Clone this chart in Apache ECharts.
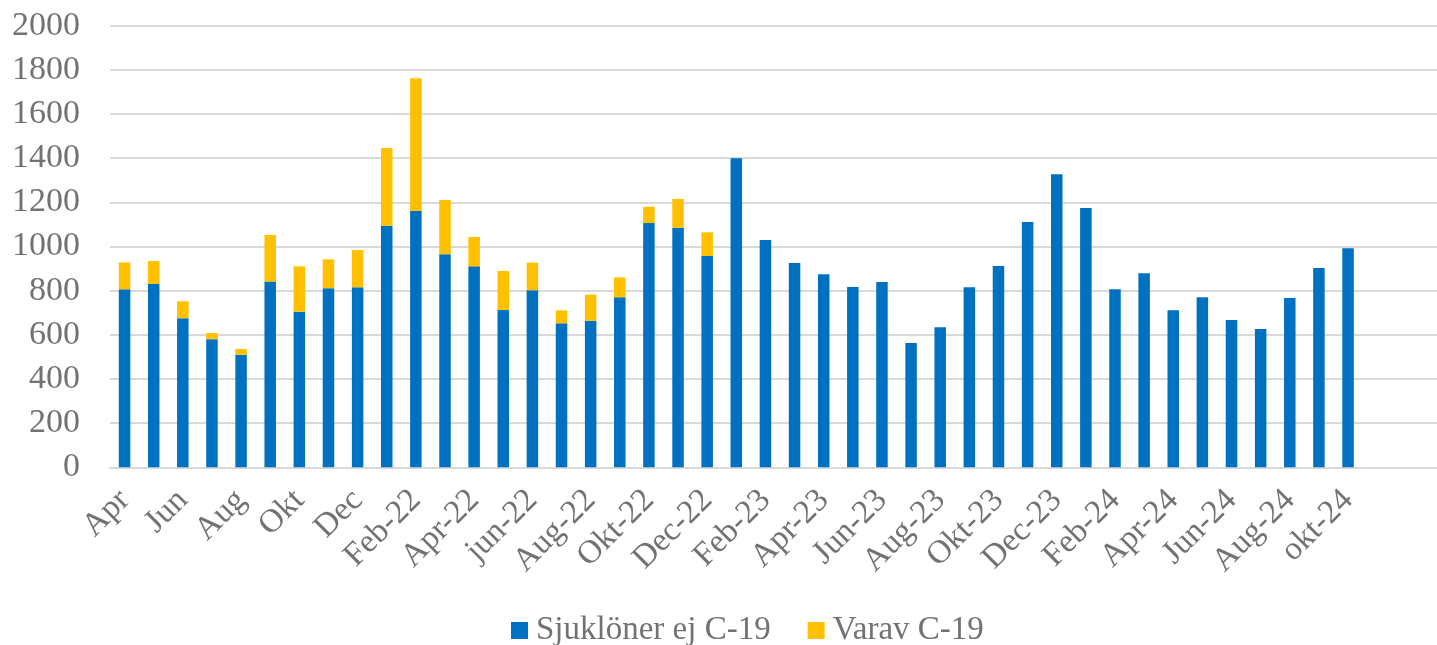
<!DOCTYPE html>
<html>
<head>
<meta charset="utf-8">
<script src="https://cdn.jsdelivr.net/npm/echarts@6/dist/echarts.min.js"></script>
<style>
html,body{margin:0;padding:0;background:#fff;overflow:hidden;width:1437px;height:645px;}
#chart{width:1450px;height:645px;}
</style>
</head>
<body>
<div id="chart"></div>
<script>
const categories = [
  "Apr","Maj","Jun","Jul","Aug","Sep","Okt","Nov","Dec",
  "Jan-22","Feb-22","Mar-22","Apr-22","Maj-22","jun-22","Jul-22","Aug-22","Sep-22","Okt-22","Nov-22","Dec-22",
  "Jan-23","Feb-23","Mar-23","Apr-23","Maj-23","Jun-23","Jul-23","Aug-23","Sep-23","Okt-23","Nov-23","Dec-23",
  "Jan-24","Feb-24","Mar-24","Apr-24","Maj-24","Jun-24","Jul-24","Aug-24","Sep-24","okt-24",
  "","",""
];
const sjuklonerEjC19 = [
  806,830,675,580,510,841,705,811,815,
  1094,1161,965,910,712,802,652,664,770,1106,1085,957,
  1400,1029,925,874,817,839,563,634,815,912,1111,1327,
  1174,806,879,711,770,667,626,767,903,992
];
const varavC19 = [
  122,104,77,28,26,211,205,131,169,
  352,601,246,133,177,125,59,118,90,74,130,107,
  0,0,0,0,0,0,0,0,0,0,0,0,
  0,0,0,0,0,0,0,0,0,0
];
const yTicks = [0,200,400,600,800,1000,1200,1400,1600,1800,2000];

const textColor = '#767171';
const fontFamily = '"Liberation Serif", "DejaVu Serif", serif';
const chart = echarts.init(document.getElementById('chart'), null, {renderer:'canvas'});
chart.setOption({
  animation:false,
  backgroundColor:'#ffffff',
  grid:{left:110, right:0, top:25.7, bottom:177.7, containLabel:false},
  legend:{
    left:506, top:609,
    itemWidth:17, itemHeight:17, itemGap:37,
    icon:'rect',
    textStyle:{color:textColor, fontSize:33, fontFamily:fontFamily, padding:[0,0,0,3]},
    data:['Sjuklöner ej C-19','Varav C-19']
  },
  xAxis:{
    type:'category',
    data:categories,
    boundaryGap:true,
    axisLine:{lineStyle:{color:'#d9d9d9', width:2}},
    axisTick:{show:false},
    axisLabel:{
      interval:1, rotate:45, margin:28,
      color:textColor, fontSize:33, fontFamily:fontFamily
    }
  },
  yAxis:{
    type:'value', min:yTicks[0], max:yTicks[yTicks.length-1], interval:200,
    axisLine:{show:false}, axisTick:{show:false},
    splitLine:{lineStyle:{color:'#d9d9d9', width:2}},
    axisLabel:{margin:30, color:textColor, fontSize:34, fontFamily:fontFamily,
      formatter:function(v){return String(v);}}
  },
  series:[
    {name:'Sjuklöner ej C-19', type:'bar', stack:'a', data:sjuklonerEjC19, barWidth:11.5,
     itemStyle:{color:'#0070C0'}},
    {name:'Varav C-19', type:'bar', stack:'a', data:varavC19, barWidth:11.5,
     itemStyle:{color:'#FFC000'}}
  ]
});
</script>
</body>
</html>
